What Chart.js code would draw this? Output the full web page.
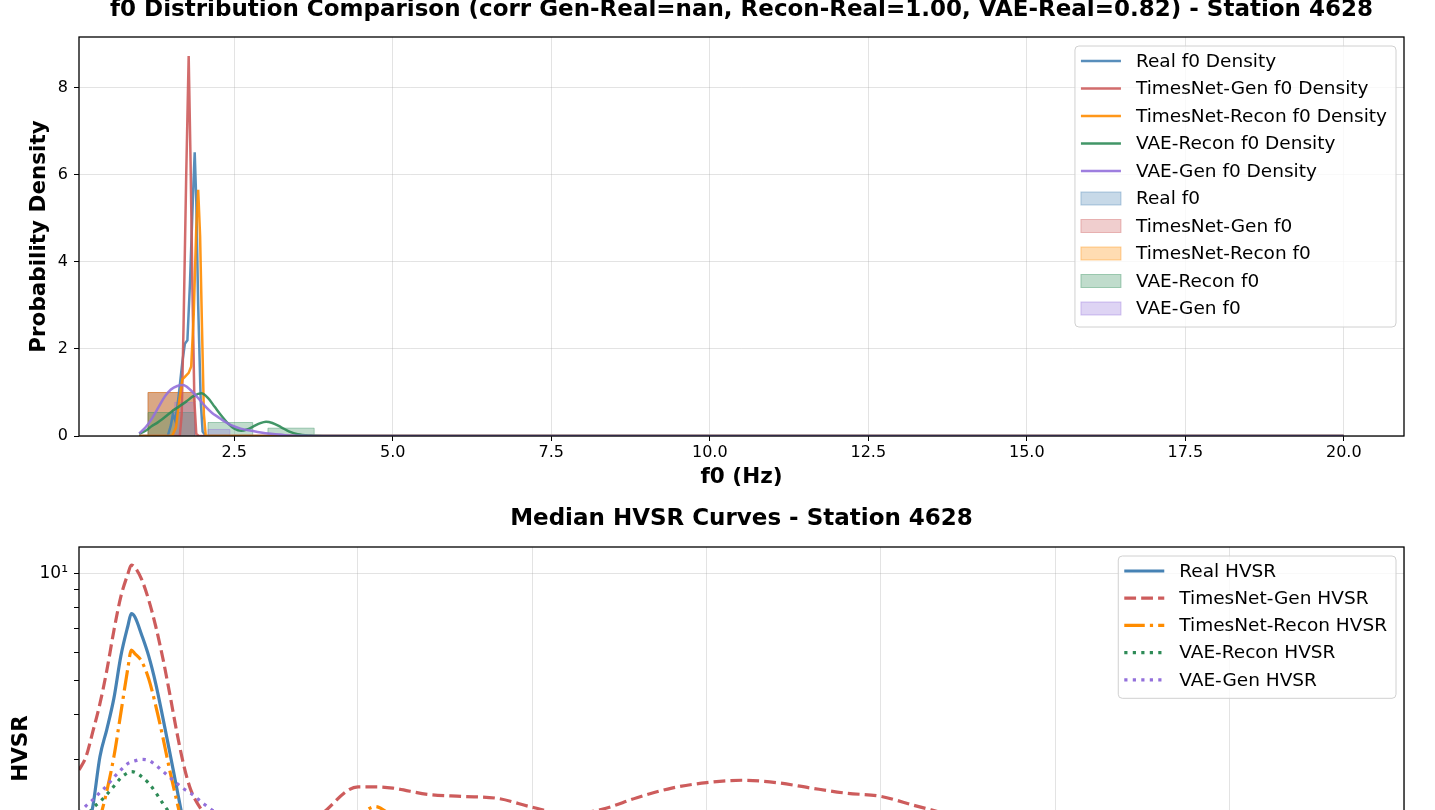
<!DOCTYPE html>
<html>
<head>
<meta charset="utf-8">
<script src="https://cdn.jsdelivr.net/npm/chart.js@4.4.1/dist/chart.umd.min.js"></script>
<style>
  html, body { margin: 0; padding: 0; background: #fff; overflow: hidden; width: 1435px; height: 810px; }
  body { position: relative; }
  canvas { position: absolute; left: 0; }
  #f0Chart { top: -20px; }
  #hvsrChart { top: 490px; }
</style>
</head>
<body>
<canvas id="f0Chart" width="1435" height="520"></canvas>
<canvas id="hvsrChart" width="1435" height="520"></canvas>
<script>
// ---- f0 density curves (Hz -> density)
const realKdeX = [1.0, 1.45, 1.5, 1.53, 1.57, 1.62, 1.68, 1.72, 1.76, 1.8, 1.85, 1.875, 1.9, 1.93, 1.97, 2.0, 2.05, 20.0];
const realKdeY = [0, 0, 0.25, 0.5, 0.35, 0.9, 1.7, 2.12, 2.2, 3.5, 5.6, 6.52, 5.4, 3.0, 0.8, 0.1, 0, 0];
const genKdeX = [1.0, 1.64, 1.67, 1.7, 1.74, 1.78, 1.81, 1.84, 1.87, 1.9, 1.94, 20.0];
const genKdeY = [0, 0, 0.5, 2.6, 5.9, 8.73, 6.3, 3.3, 0.8, 0.05, 0, 0];
const reconKdeX = [1.0, 1.52, 1.58, 1.63, 1.68, 1.72, 1.78, 1.82, 1.86, 1.9, 1.93, 1.96, 1.99, 2.02, 2.05, 20.0];
const reconKdeY = [0, 0, 0.2, 0.8, 1.3, 1.36, 1.45, 1.6, 2.8, 4.8, 5.66, 4.6, 2.5, 0.5, 0, 0];
const vaeReconKdeX = [1.0, 1.1, 1.2, 1.27, 1.4, 1.51, 1.62, 1.74, 1.86, 1.98, 2.08, 2.19, 2.3, 2.4, 2.5, 2.61, 2.7, 2.79, 2.9, 3.0, 3.1, 3.24, 3.37, 3.5, 3.7, 4.0, 20.0];
const vaeReconKdeY = [0.05, 0.12, 0.23, 0.29, 0.43, 0.56, 0.67, 0.79, 0.92, 0.98, 0.88, 0.67, 0.46, 0.29, 0.17, 0.12, 0.15, 0.21, 0.29, 0.33, 0.3, 0.2, 0.1, 0.04, 0.01, 0, 0];
const vaeGenKdeX = [1.0, 1.1, 1.2, 1.3, 1.4, 1.5, 1.6, 1.69, 1.8, 1.93, 2.05, 2.15, 2.24, 2.35, 2.45, 2.6, 2.77, 2.92, 3.08, 3.3, 3.6, 4.0, 20.0];
const vaeGenKdeY = [0.06, 0.2, 0.4, 0.65, 0.9, 1.07, 1.15, 1.17, 1.07, 0.87, 0.67, 0.53, 0.44, 0.33, 0.25, 0.17, 0.12, 0.08, 0.05, 0.02, 0.005, 0, 0];

// ---- f0 histograms: bin edges and densities
const realHistEdges = [1.14, 1.875];
const realHistDens = [1.0];
const genHistEdges = [1.14, 1.875];
const genHistDens = [1.0];
const reconHistEdges = [1.14, 1.875];
const reconHistDens = [1.0];
const vaeReconHistEdges = [1.14, 1.875, 2.085, 2.79, 3.03, 3.76];
const vaeReconHistDens = [0.54, 0, 0.31, 0, 0.18];
const vaeGenHistEdges = [1.56, 1.875, 2.085, 2.43];
const vaeGenHistDens = [0.77, 0, 0.15];

const f0Ticks = [2.5, 5.0, 7.5, 10.0, 12.5, 15.0, 17.5, 20.0];
const densityTicks = [0, 2, 4, 6, 8];

// ---- median HVSR curves
const hvsrFreq = [1.0, 1.1, 1.2, 1.3, 1.4, 1.5, 1.6, 1.7, 1.75, 1.8, 1.9, 2.0, 2.1, 2.2, 2.3, 2.4, 2.5, 2.6, 2.8, 3.0, 3.3, 3.6, 4.0, 4.5, 5.0, 5.25, 5.5, 6.0, 6.5, 7.0, 7.5, 8.0, 8.5, 9.0, 9.5, 10.0, 10.5, 11.0, 11.5, 12.0, 12.5, 13.0, 14.0, 15.0, 16.0, 17.0, 18.0, 19.0, 20.0];
const realHvsr = [1.5, 1.8, 2.22, 3.05, 3.65, 4.45, 5.85, 7.1, 7.7, 7.55, 6.7, 5.85, 4.9, 3.95, 3.15, 2.5, 2.0, 1.75, 1.5, 1.35, 1.25, 1.25, 1.3, 1.45, 1.6, 1.61, 1.62, 1.58, 1.55, 1.52, 1.48, 1.45, 1.48, 1.55, 1.62, 1.67, 1.7, 1.68, 1.63, 1.58, 1.55, 1.5, 1.4, 1.32, 1.28, 1.25, 1.22, 1.2, 1.18];
const genHvsr = [2.80, 3.05, 3.6, 4.3, 5.35, 6.9, 8.6, 9.95, 10.55, 10.4, 9.6, 8.41, 7.1, 5.8, 4.6, 3.6, 2.9, 2.47, 2.1, 1.85, 1.68, 1.62, 1.72, 2.12, 2.51, 2.51, 2.49, 2.39, 2.36, 2.33, 2.2, 2.1, 2.17, 2.34, 2.49, 2.58, 2.62, 2.58, 2.49, 2.41, 2.36, 2.22, 1.98, 1.82, 1.72, 1.66, 1.6, 1.55, 1.5];
const reconHvsr = [1.3, 1.5, 1.8, 2.05, 2.45, 3.05, 4.05, 5.4, 6.08, 5.95, 5.65, 5.05, 4.25, 3.48, 2.8, 2.3, 1.9, 1.65, 1.45, 1.35, 1.35, 1.45, 1.65, 1.88, 2.08, 2.21, 2.08, 1.95, 1.85, 1.8, 1.75, 1.72, 1.75, 1.82, 1.88, 1.92, 1.95, 1.92, 1.88, 1.84, 1.8, 1.72, 1.6, 1.5, 1.45, 1.4, 1.36, 1.32, 1.3];
const vaeReconHvsr = [1.95, 2.07, 2.19, 2.28, 2.39, 2.52, 2.66, 2.75, 2.77, 2.76, 2.68, 2.57, 2.42, 2.26, 2.12, 2.0, 1.9, 1.82, 1.7, 1.6, 1.5, 1.45, 1.45, 1.5, 1.55, 1.55, 1.55, 1.52, 1.5, 1.48, 1.46, 1.45, 1.46, 1.5, 1.53, 1.56, 1.58, 1.57, 1.55, 1.52, 1.5, 1.46, 1.4, 1.35, 1.32, 1.3, 1.28, 1.26, 1.25];
const vaeGenHvsr = [2.12, 2.22, 2.31, 2.42, 2.53, 2.67, 2.8, 2.92, 2.95, 2.97, 3.0, 2.98, 2.89, 2.78, 2.67, 2.57, 2.48, 2.41, 2.24, 2.1, 1.95, 1.85, 1.8, 1.8, 1.82, 1.81, 1.8, 1.76, 1.72, 1.7, 1.68, 1.66, 1.68, 1.72, 1.76, 1.8, 1.82, 1.8, 1.77, 1.74, 1.7, 1.66, 1.58, 1.52, 1.48, 1.45, 1.42, 1.4, 1.38];

const hvsrFreqTicks = [2.5, 5.0, 7.5, 10.0, 12.5, 15.0, 17.5, 20.0];
const hvsrTicks = [1, 2, 3, 4, 5, 6, 7, 8, 9, 10];

// colours
const cReal = [70, 130, 180], cGen = [205, 92, 92], cRecon = [255, 140, 0], cVaeRecon = [46, 139, 87], cVaeGen = [147, 112, 219];
const rgba = (c, a) => `rgba(${c[0]},${c[1]},${c[2]},${a})`;
const gridColor = 'rgba(176,176,176,0.35)';
const FONT = '"DejaVu Sans", sans-serif';

Chart.defaults.font.family = FONT;
Chart.defaults.color = '#000';

function pts(xs, ys) { return xs.map((x, i) => ({ x: x, y: ys[i] })); }
function histPts(edges, dens) {
  const out = [{ x: edges[0], y: 0 }];
  edges.forEach((x, i) => out.push({ x: x, y: i < dens.length ? dens[i] : 0 }));
  return out;
}

function kdeSet(label, xs, ys, c, order, smooth) {
  return { label, data: pts(xs, ys), borderColor: rgba(c, 0.9), borderWidth: 2.5, pointRadius: 0,
    tension: 0, cubicInterpolationMode: smooth ? 'monotone' : 'default', fill: false, order };
}
function histSet(label, edges, dens, c, order) {
  return { label, data: histPts(edges, dens), stepped: 'before', fill: 'origin',
    backgroundColor: rgba(c, 0.3), borderColor: rgba(c, 0.4), borderWidth: 1, pointRadius: 0, order, patch: true };
}
function hvsrSet(label, vals, c, dash, order) {
  return { label, data: pts(hvsrFreq, vals), borderColor: rgba(c, 1), borderWidth: 3.2, borderDash: dash,
    pointRadius: 0, cubicInterpolationMode: 'monotone', fill: false, order };
}

// spines
const frame = {
  id: 'frame',
  afterDraw(chart) {
    const { ctx, chartArea: a } = chart;
    ctx.save();
    ctx.strokeStyle = '#000';
    ctx.lineWidth = 1.3;
    ctx.strokeRect(a.left, a.top, a.right - a.left, a.bottom - a.top);
    ctx.restore();
  }
};

// axes title, centred over the plot area
const figTitle = {
  id: 'figTitle',
  afterDraw(chart, args, opts) {
    const { ctx, chartArea: a } = chart;
    ctx.save();
    ctx.font = 'bold 23px ' + FONT;
    ctx.fillStyle = '#000';
    ctx.textAlign = 'center';
    ctx.textBaseline = 'alphabetic';
    ctx.fillText(opts.text, (a.left + a.right) / 2, a.top - opts.gap);
    ctx.restore();
  }
};

// matplotlib-like legend box in the upper right corner
const boxLegend = {
  id: 'boxLegend',
  afterDraw(chart, args, opts) {
    const { ctx, chartArea: a } = chart;
    const items = chart.data.datasets;
    ctx.save();
    ctx.font = '18.5px ' + FONT;
    const tw = Math.max(...items.map(d => ctx.measureText(d.label).width));
    const w = 61 + tw + 9;
    const h = 15 + (items.length - 1) * opts.pitch + 18.5;
    const right = a.right - 8, left = right - w, top = a.top + 9;
    const r = 4;
    ctx.beginPath();
    ctx.moveTo(left + r, top);
    ctx.arcTo(right, top, right, top + h, r);
    ctx.arcTo(right, top + h, left, top + h, r);
    ctx.arcTo(left, top + h, left, top, r);
    ctx.arcTo(left, top, right, top, r);
    ctx.closePath();
    ctx.fillStyle = 'rgba(255,255,255,0.8)';
    ctx.fill();
    ctx.strokeStyle = '#d0d0d0';
    ctx.lineWidth = 1;
    ctx.stroke();
    items.forEach((d, i) => {
      const cy = top + 15 + i * opts.pitch;
      if (d.patch) {
        ctx.fillStyle = d.backgroundColor;
        ctx.fillRect(left + 6, cy - 6.5, 40, 13);
        ctx.strokeStyle = d.borderColor;
        ctx.lineWidth = 1;
        ctx.strokeRect(left + 6, cy - 6.5, 40, 13);
      } else {
        ctx.beginPath();
        ctx.setLineDash(d.borderDash || []);
        ctx.strokeStyle = d.borderColor;
        ctx.lineWidth = d.borderWidth;
        ctx.moveTo(left + 6, cy);
        ctx.lineTo(left + 46, cy);
        ctx.stroke();
        ctx.setLineDash([]);
      }
      ctx.fillStyle = '#000';
      ctx.textAlign = 'left';
      ctx.textBaseline = 'middle';
      ctx.fillText(d.label, left + 61, cy + 1);
    });
    ctx.restore();
  }
};

const tickFont = { size: 16 };
const labelFont = { size: 21.5, weight: 'bold' };

// ---------- f0 distribution
new Chart(document.getElementById('f0Chart'), {
  type: 'line',
  data: {
    datasets: [
      kdeSet('Real f0 Density', realKdeX, realKdeY, cReal, 5, false),
      kdeSet('TimesNet-Gen f0 Density', genKdeX, genKdeY, cGen, 4, false),
      kdeSet('TimesNet-Recon f0 Density', reconKdeX, reconKdeY, cRecon, 3, false),
      kdeSet('VAE-Recon f0 Density', vaeReconKdeX, vaeReconKdeY, cVaeRecon, 2, true),
      kdeSet('VAE-Gen f0 Density', vaeGenKdeX, vaeGenKdeY, cVaeGen, 1, true),
      histSet('Real f0', realHistEdges, realHistDens, cReal, 10),
      histSet('TimesNet-Gen f0', genHistEdges, genHistDens, cGen, 9),
      histSet('TimesNet-Recon f0', reconHistEdges, reconHistDens, cRecon, 8),
      histSet('VAE-Recon f0', vaeReconHistEdges, vaeReconHistDens, cVaeRecon, 7),
      histSet('VAE-Gen f0', vaeGenHistEdges, vaeGenHistDens, cVaeGen, 6)
    ]
  },
  options: {
    responsive: false,
    animation: false,
    events: [],
    layout: { padding: { left: 0, right: 31, top: 57, bottom: 10 } },
    plugins: {
      legend: { display: false },
      tooltip: { enabled: false },
      figTitle: { text: 'f0 Distribution Comparison (corr Gen-Real=nan, Recon-Real=1.00, VAE-Real=0.82) - Station 4628', gap: 21 },
      boxLegend: { pitch: 27.5 }
    },
    scales: {
      x: {
        type: 'linear', min: 0.05, max: 20.95,
        afterBuildTicks: s => { s.ticks = f0Ticks.map(v => ({ value: v })); },
        afterFit: s => { s.height = 54; },
        ticks: { font: tickFont, color: '#000', padding: 2, maxRotation: 0, autoSkip: false, callback: v => v.toFixed(1) },
        grid: { color: gridColor, tickColor: '#000', tickLength: 5 },
        border: { display: false },
        title: { display: true, text: 'f0 (Hz)', font: labelFont, color: '#000', padding: 0 }
      },
      y: {
        min: 0, max: 9.17,
        afterBuildTicks: s => { s.ticks = densityTicks.map(v => ({ value: v })); },
        afterFit: s => { s.width = 79; },
        ticks: { font: tickFont, color: '#000', padding: 6, autoSkip: false, callback: v => String(v) },
        grid: { color: gridColor, tickColor: '#000', tickLength: 5 },
        border: { display: false },
        title: { display: true, text: 'Probability Density', font: labelFont, color: '#000', padding: { top: 27, bottom: 0 } }
      }
    }
  },
  plugins: [frame, figTitle, boxLegend]
});

// ---------- median HVSR curves
new Chart(document.getElementById('hvsrChart'), {
  type: 'line',
  data: {
    datasets: [
      hvsrSet('Real HVSR', realHvsr, cReal, [], 5),
      hvsrSet('TimesNet-Gen HVSR', genHvsr, cGen, [11.8, 5.1], 4),
      hvsrSet('TimesNet-Recon HVSR', reconHvsr, cRecon, [20.5, 5.1, 3.2, 5.1], 3),
      hvsrSet('VAE-Recon HVSR', vaeReconHvsr, cVaeRecon, [3.2, 5.3], 2),
      hvsrSet('VAE-Gen HVSR', vaeGenHvsr, cVaeGen, [3.2, 5.3], 1)
    ]
  },
  options: {
    responsive: false,
    animation: false,
    events: [],
    layout: { padding: { left: 0, right: 31, top: 57, bottom: 0 } },
    plugins: {
      legend: { display: false },
      tooltip: { enabled: false },
      figTitle: { text: 'Median HVSR Curves - Station 4628', gap: 22 },
      boxLegend: { pitch: 27.2 }
    },
    scales: {
      x: {
        type: 'linear', min: 1, max: 20,
        afterBuildTicks: s => { s.ticks = hvsrFreqTicks.map(v => ({ value: v })); },
        afterFit: s => { s.height = 60; },
        ticks: { font: tickFont, color: '#000', padding: 2, maxRotation: 0, autoSkip: false, callback: v => v.toFixed(1) },
        grid: { color: gridColor, tickColor: '#000', tickLength: 5 },
        border: { display: false },
        title: { display: true, text: 'Frequency (Hz)', font: labelFont, color: '#000', padding: 0 }
      },
      y: {
        type: 'logarithmic', min: 0.873, max: 11.86,
        afterBuildTicks: s => { s.ticks = hvsrTicks.map(v => ({ value: v, major: v === 1 || v === 10 })); },
        afterFit: s => { s.width = 79; },
        ticks: { font: { size: 17 }, color: '#000', padding: 6, autoSkip: false,
          callback: v => (v === 10 ? '10\u00B9' : (v === 1 ? '10\u2070' : '')) },
        grid: { color: c => (c.tick && c.tick.major ? gridColor : 'rgba(0,0,0,0)'), tickColor: '#000', tickLength: 5 },
        border: { display: false },
        title: { display: true, text: 'HVSR', font: labelFont, color: '#000', padding: { top: 9, bottom: 0 } }
      }
    }
  },
  plugins: [frame, figTitle, boxLegend]
});
</script>
</body>
</html>
